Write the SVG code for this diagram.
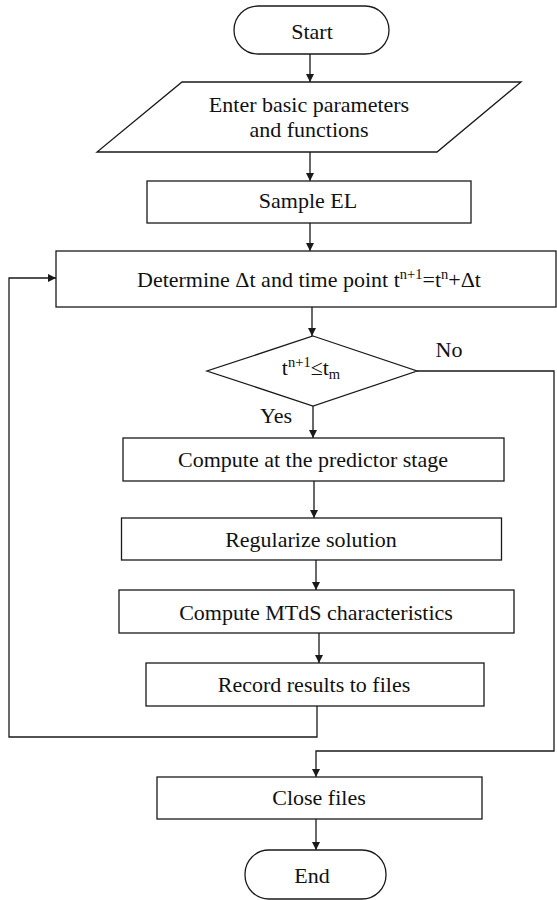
<svg xmlns="http://www.w3.org/2000/svg" width="557" height="900" viewBox="0 0 557 900" font-family="'Liberation Serif', 'DejaVu Serif', serif">
<style>
.s{fill:#fff;stroke:#1a1a1a;stroke-width:1.3}
.c{fill:none;stroke:#1a1a1a;stroke-width:1.3}
.t{font-family:'Liberation Serif','DejaVu Serif',serif;font-size:22px;fill:#111;text-anchor:middle}
.sm{font-size:14.5px}
</style>
<defs>
<marker id="ah" viewBox="0 0 10 10" refX="10" refY="5" markerWidth="8" markerHeight="8" markerUnits="userSpaceOnUse" orient="auto">
<path d="M0,0 L10,5 L0,10 z" fill="#1a1a1a"/>
</marker>
</defs>
<rect width="557" height="900" fill="#fff"/>
<g id="connectors">
<line class="c" x1="310" y1="54" x2="310" y2="82" marker-end="url(#ah)"/>
<line class="c" x1="310" y1="152" x2="310" y2="181" marker-end="url(#ah)"/>
<line class="c" x1="310" y1="223" x2="310" y2="251" marker-end="url(#ah)"/>
<line class="c" x1="312" y1="307" x2="312" y2="336" marker-end="url(#ah)"/>
<line class="c" x1="313" y1="406" x2="313" y2="438" marker-end="url(#ah)"/>
<line class="c" x1="314" y1="481" x2="314" y2="518" marker-end="url(#ah)"/>
<line class="c" x1="316" y1="560" x2="316" y2="590" marker-end="url(#ah)"/>
<line class="c" x1="319" y1="633" x2="319" y2="663" marker-end="url(#ah)"/>
<polyline class="c" points="317,706 317,737 9,737 9,278 56,278" marker-end="url(#ah)"/>
<polyline class="c" points="417,371 554,371 554,751 316,751 316,777" marker-end="url(#ah)"/>
<line class="c" x1="316" y1="819" x2="316" y2="850" marker-end="url(#ah)"/>
<text class="t" x="449" y="357">No</text>
<text class="t" x="276" y="423">Yes</text>
</g>
<g id="start">
<rect class="s" x="234" y="6" width="155" height="48" rx="24" ry="24"/>
<text class="t" x="312" y="39">Start</text>
</g>
<g id="input">
<polygon class="s" points="182,82 521,82 437,152 97,152"/>
<text class="t" x="309" y="112">Enter basic parameters</text>
<text class="t" x="309" y="137">and functions</text>
</g>
<g id="sample">
<rect class="s" x="147" y="181" width="324" height="42"/>
<text class="t" x="308" y="208">Sample EL</text>
</g>
<g id="determine">
<rect class="s" x="56" y="251" width="500" height="56"/>
<text class="t" x="309" y="287">Determine Δt and time point t<tspan class="sm" dy="-8">n+1</tspan><tspan dy="8">=t</tspan><tspan class="sm" dy="-8">n</tspan><tspan dy="8">+Δt</tspan></text>
</g>
<g id="decision">
<polygon class="s" points="313,336 417,371 313,406 207,371"/>
<text class="t" x="311" y="375">t<tspan class="sm" dy="-8">n+1</tspan><tspan dy="8">≤t</tspan><tspan class="sm" dy="4">m</tspan></text>
</g>
<g id="predictor">
<rect class="s" x="123" y="438" width="381" height="43"/>
<text class="t" x="313" y="467">Compute at the predictor stage</text>
</g>
<g id="regularize">
<rect class="s" x="121.5" y="518" width="380" height="42"/>
<text class="t" x="311" y="547">Regularize solution</text>
</g>
<g id="mtds">
<rect class="s" x="119" y="590" width="395" height="43"/>
<text class="t" x="316" y="620">Compute MTdS characteristics</text>
</g>
<g id="record">
<rect class="s" x="146" y="663" width="338" height="43"/>
<text class="t" x="314" y="692">Record results to files</text>
</g>
<g id="close">
<rect class="s" x="157" y="777" width="325" height="42"/>
<text class="t" x="319" y="805">Close files</text>
</g>
<g id="end">
<rect class="s" x="245" y="850" width="141" height="49" rx="24" ry="24"/>
<text class="t" x="312" y="883">End</text>
</g>
</svg>
